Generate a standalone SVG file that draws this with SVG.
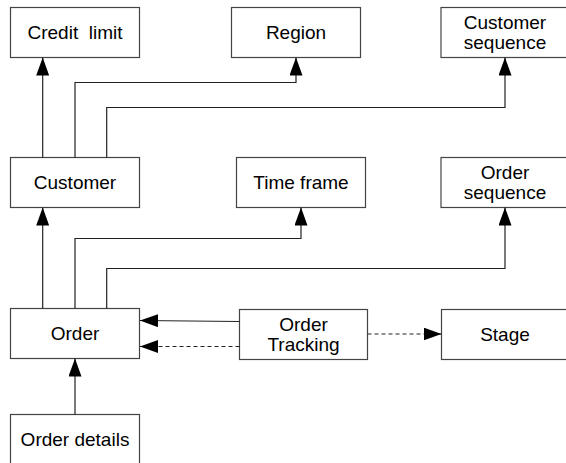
<svg xmlns="http://www.w3.org/2000/svg" width="566" height="463" viewBox="0 0 566 463">
<style>
.box{fill:#fff;stroke:#444;stroke-width:1.2}
.t{font-family:"Liberation Sans",Arial,sans-serif;font-size:19px;fill:#000;text-anchor:middle}
.c{fill:none;stroke:#222;stroke-width:1.2}
.d{fill:none;stroke:#222;stroke-width:1.2;stroke-dasharray:4 3}
</style>
<defs>
<marker id="ah" markerUnits="userSpaceOnUse" markerWidth="18" markerHeight="13" refX="18" refY="6.5" orient="auto">
<path d="M0,0 L18,6.5 L0,13 z" fill="#000"/>
</marker>
</defs>
<rect width="566" height="463" fill="#fff"/>
<g id="credit-limit"><rect class="box" x="10.5" y="7.5" width="129" height="50"/><text class="t" x="75" y="38.5" xml:space="preserve">Credit  limit</text></g>
<g id="region"><rect class="box" x="231.5" y="7.5" width="129" height="50"/><text class="t" x="296" y="38.5">Region</text></g>
<g id="customer-sequence"><rect class="box" x="441" y="7.5" width="129" height="50"/><text class="t" x="505" y="28.5">Customer</text><text class="t" x="505" y="48.5">sequence</text></g>
<g id="customer"><rect class="box" x="10.5" y="157.5" width="129" height="50"/><text class="t" x="75" y="188.5">Customer</text></g>
<g id="time-frame"><rect class="box" x="236.5" y="157.5" width="129" height="50"/><text class="t" x="301" y="188.5">Time frame</text></g>
<g id="order-sequence"><rect class="box" x="441" y="157.5" width="129" height="50"/><text class="t" x="505" y="178.5">Order</text><text class="t" x="505" y="198.5">sequence</text></g>
<g id="order"><rect class="box" x="10.5" y="308.5" width="129" height="50"/><text class="t" x="75" y="339.5">Order</text></g>
<g id="order-tracking"><rect class="box" x="239.5" y="309.5" width="128" height="50"/><text class="t" x="303.5" y="330.5">Order</text><text class="t" x="303.5" y="351">Tracking</text></g>
<g id="stage"><rect class="box" x="441.5" y="309.5" width="129" height="50"/><text class="t" x="505" y="341">Stage</text></g>
<g id="order-details"><rect class="box" x="10.5" y="414.5" width="129" height="50"/><text class="t" x="75" y="445.5">Order details</text></g>
<g id="connectors">
<path class="c" d="M42.7,157.5 V57.5" marker-end="url(#ah)"/>
<path class="c" d="M75,157.5 V82.5 H296 V57.5" marker-end="url(#ah)"/>
<path class="c" d="M106.7,157.5 V107.5 H505 V57.5" marker-end="url(#ah)"/>
<path class="c" d="M42.7,308.5 V207.5" marker-end="url(#ah)"/>
<path class="c" d="M75,308.5 V238.5 H301 V207.5" marker-end="url(#ah)"/>
<path class="c" d="M106.7,308.5 V268.5 H505 V207.5" marker-end="url(#ah)"/>
<path class="c" d="M239.5,321.5 L140,320.5" marker-end="url(#ah)"/>
<path class="d" d="M239.5,346.5 H140" marker-end="url(#ah)"/>
<path class="d" d="M367.5,334 H441.5" marker-end="url(#ah)"/>
<path class="c" d="M75,414.5 V358.5" marker-end="url(#ah)"/>
</g>
</svg>
